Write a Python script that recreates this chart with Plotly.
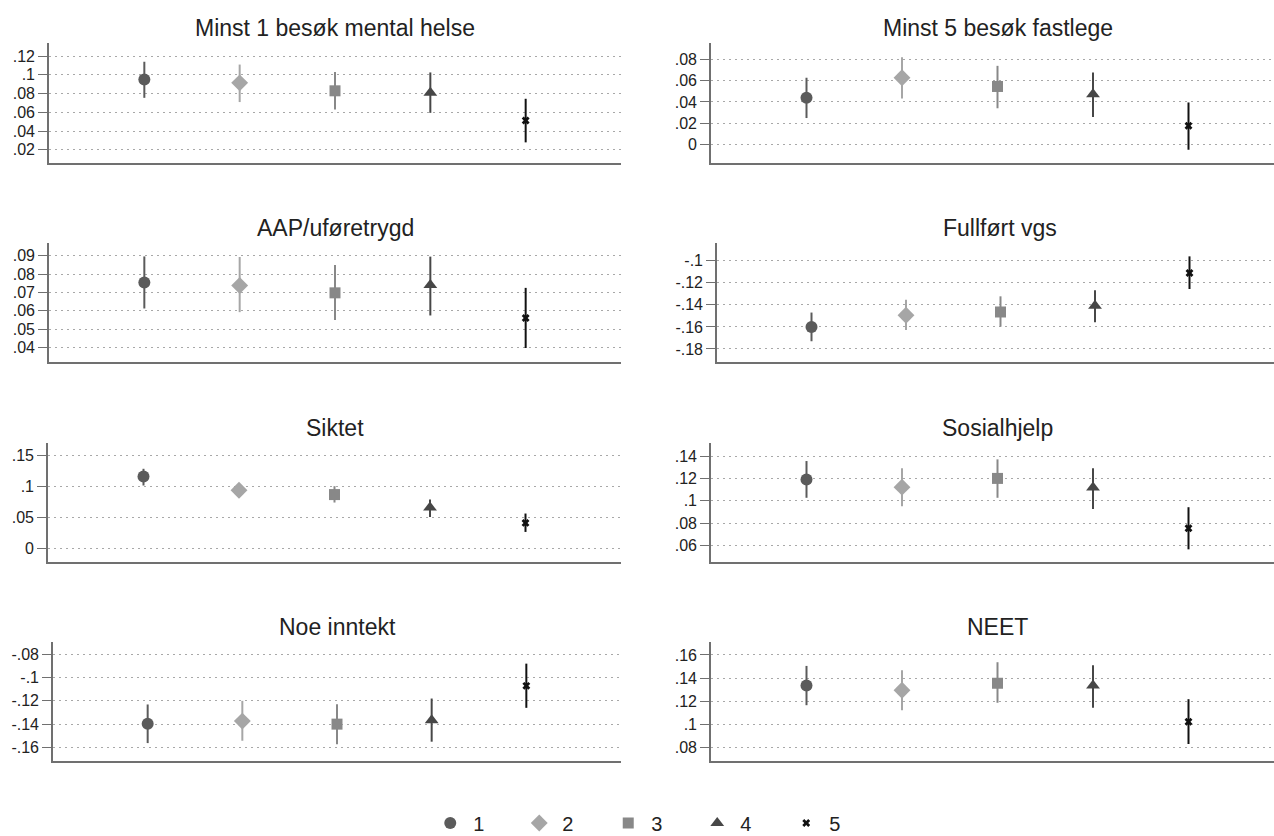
import plotly.graph_objects as go

# ---------------- data ----------------
groups = ["1", "2", "3", "4", "5"]
xpos = [1, 2, 3, 4, 5]

titles = ["Minst 1 besøk mental helse", "Minst 5 besøk fastlege",
          "AAP/uføretrygd", "Fullført vgs",
          "Siktet", "Sosialhjelp",
          "Noe inntekt", "NEET"]

mental_est = [0.095, 0.0915, 0.083, 0.081, 0.0513]
mental_lo = [0.0755, 0.071, 0.063, 0.0595, 0.028]
mental_hi = [0.114, 0.111, 0.103, 0.1026, 0.0745]

fastlege_est = [0.044, 0.063, 0.0547, 0.0474, 0.0174]
fastlege_lo = [0.0247, 0.0433, 0.034, 0.0256, -0.0054]
fastlege_hi = [0.063, 0.0825, 0.0743, 0.068, 0.0395]

aap_est = [0.0754, 0.0738, 0.0698, 0.074, 0.0561]
aap_lo = [0.0613, 0.0593, 0.055, 0.0575, 0.0398]
aap_hi = [0.0896, 0.0893, 0.0849, 0.0895, 0.0725]

vgs_est = [-0.160, -0.1495, -0.1465, -0.1408, -0.1112]
vgs_lo = [-0.173, -0.1628, -0.1598, -0.1558, -0.1257]
vgs_hi = [-0.147, -0.1353, -0.1323, -0.1269, -0.0961]

siktet_est = [0.116, 0.094, 0.087, 0.0661, 0.0414]
siktet_lo = [0.1016, 0.0823, 0.0742, 0.0511, 0.0269]
siktet_hi = [0.1285, 0.1032, 0.1005, 0.079, 0.0565]

sosial_est = [0.1191, 0.1122, 0.12, 0.1119, 0.0755]
sosial_lo = [0.1027, 0.0952, 0.1027, 0.0928, 0.0567]
sosial_hi = [0.1355, 0.129, 0.137, 0.129, 0.0943]

inntekt_est = [-0.1397, -0.1374, -0.14, -0.1366, -0.1071]
inntekt_lo = [-0.1563, -0.1543, -0.1574, -0.1551, -0.126]
inntekt_hi = [-0.1231, -0.12, -0.1229, -0.118, -0.088]

neet_est = [0.1335, 0.1295, 0.1355, 0.1335, 0.1022]
neet_lo = [0.1165, 0.1122, 0.1186, 0.1142, 0.0829]
neet_hi = [0.1505, 0.1468, 0.1537, 0.1511, 0.1217]

mental_ticks = [0.02, 0.04, 0.06, 0.08, 0.10, 0.12]
mental_ticktext = [".02", ".04", ".06", ".08", ".1", ".12"]
fastlege_ticks = [0, 0.02, 0.04, 0.06, 0.08]
fastlege_ticktext = ["0", ".02", ".04", ".06", ".08"]
aap_ticks = [0.04, 0.05, 0.06, 0.07, 0.08, 0.09]
aap_ticktext = [".04", ".05", ".06", ".07", ".08", ".09"]
vgs_ticks = [-0.18, -0.16, -0.14, -0.12, -0.10]
vgs_ticktext = ["-.18", "-.16", "-.14", "-.12", "-.1"]
siktet_ticks = [0, 0.05, 0.10, 0.15]
siktet_ticktext = ["0", ".05", ".1", ".15"]
sosial_ticks = [0.06, 0.08, 0.10, 0.12, 0.14]
sosial_ticktext = [".06", ".08", ".1", ".12", ".14"]
inntekt_ticks = [-0.16, -0.14, -0.12, -0.10, -0.08]
inntekt_ticktext = ["-.16", "-.14", "-.12", "-.1", "-.08"]
neet_ticks = [0.08, 0.10, 0.12, 0.14, 0.16]
neet_ticktext = [".08", ".1", ".12", ".14", ".16"]

# ---------------- styling ----------------
colors = ["#5b5b5b", "#a6a6a6", "#888888", "#474747", "#111111"]
symbols = ["circle", "diamond", "square", "triangle-up", "x"]
sizes = [12, 13, 11, 12, 7]

panels = [
    (mental_est, mental_lo, mental_hi, mental_ticks, mental_ticktext, [0.006, 0.134]),
    (fastlege_est, fastlege_lo, fastlege_hi, fastlege_ticks, fastlege_ticktext, [-0.018, 0.096]),
    (aap_est, aap_lo, aap_hi, aap_ticks, aap_ticktext, [0.0322, 0.0969]),
    (vgs_est, vgs_lo, vgs_hi, vgs_ticks, vgs_ticktext, [-0.1918, -0.084]),
    (siktet_est, siktet_lo, siktet_hi, siktet_ticks, siktet_ticktext, [-0.0215, 0.170]),
    (sosial_est, sosial_lo, sosial_hi, sosial_ticks, sosial_ticktext, [0.0454, 0.1516]),
    (inntekt_est, inntekt_lo, inntekt_hi, inntekt_ticks, inntekt_ticktext, [-0.1717, -0.0694]),
    (neet_est, neet_lo, neet_hi, neet_ticks, neet_ticktext, [0.0682, 0.1712]),
]

W, H = 1274, 836
# plot-region left edge (axis line) per panel, and nominal right edge per column
axis_left_px = [49, 711, 49, 717, 48, 711, 53, 711]
right_px = [621, 1284]
row_px = [(43, 163), (243, 362), (443, 562), (642, 761)]
XMAX = 6.0
LEGEND_Y_PX = 823

fig = go.Figure()
layout = dict(
    width=W, height=H,
    margin=dict(l=0, r=0, t=0, b=0, autoexpand=False),
    paper_bgcolor="white", plot_bgcolor="white",
    font=dict(family="Liberation Sans, Arial, sans-serif", color="#222222"),
    showlegend=True,
    legend=dict(orientation="h", x=0.51, xanchor="center",
                y=1 - LEGEND_Y_PX / H, yanchor="middle",
                font=dict(size=20, color="#222222"), itemwidth=36,
                entrywidth=38, traceorder="normal"),
)
annotations = []

for i, (est, lo, hi, tv, tt, yr) in enumerate(panels):
    r, c = divmod(i, 2)
    k = i + 1
    xa = "xaxis" if k == 1 else f"xaxis{k}"
    ya = "yaxis" if k == 1 else f"yaxis{k}"
    xref = "x" if k == 1 else f"x{k}"
    yref = "y" if k == 1 else f"y{k}"
    x0 = axis_left_px[i]
    x1 = right_px[c]
    x1c = min(x1, W)
    xr_max = XMAX * (x1c - x0) / (x1 - x0)
    t0, t1 = row_px[r]
    layout[xa] = dict(domain=[x0 / W, x1c / W], range=[0, xr_max], anchor=yref,
                      showticklabels=False, ticks="", showgrid=False, zeroline=False,
                      showline=True, linecolor="#707070", linewidth=1.6, fixedrange=True)
    layout[ya] = dict(domain=[1 - t1 / H, 1 - t0 / H], range=yr, anchor=xref,
                      tickvals=tv, ticktext=tt, ticks="outside", ticklen=9,
                      tickcolor="#707070", tickwidth=1.3,
                      tickfont=dict(size=16, color="#222222"),
                      showgrid=True, gridcolor="#a8a8a8", gridwidth=1, griddash="1.5px,4.5px",
                      zeroline=False, showline=True, linecolor="#707070", linewidth=1.6)
    annotations.append(dict(text=titles[i], xref="paper", yref="paper",
                            x=(x0 + x1) / 2 / W, y=1 - (t0 - 15) / H,
                            xanchor="center", yanchor="middle", showarrow=False,
                            font=dict(size=23, color="#222222")))
    for g in range(5):
        fig.add_trace(go.Scatter(
            x=[xpos[g]], y=[est[g]], mode="markers", name=groups[g],
            legendgroup=groups[g], showlegend=(i == 0),
            marker=dict(symbol=symbols[g], size=sizes[g], color=colors[g],
                        line=dict(width=0)),
            error_y=dict(type="data", symmetric=False,
                         array=[hi[g] - est[g]], arrayminus=[est[g] - lo[g]],
                         color=colors[g], thickness=2, width=0),
            xaxis=xref, yaxis=yref,
        ))

layout["annotations"] = annotations
fig.update_layout(**layout)
fig.write_html("out.html")
